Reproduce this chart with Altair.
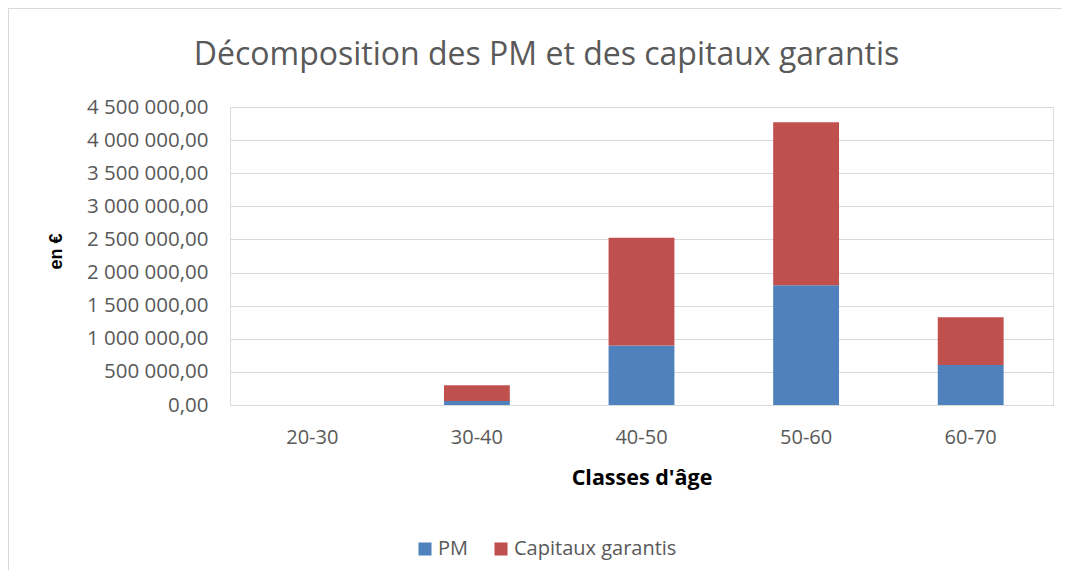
import altair as alt
import pandas as pd

categories = ["20-30", "30-40", "40-50", "50-60", "60-70"]
pm = [0, 60000, 900000, 1810000, 605000]
capitaux = [0, 240000, 1627000, 2460000, 720000]
series = ["PM", "Capitaux garantis"]
colors = ["#4F81BD", "#C0504D"]

rows = []
for c, p, k in zip(categories, pm, capitaux):
    rows.append({"classe": c, "serie": "PM", "valeur": p, "ordre": 0})
    rows.append({"classe": c, "serie": "Capitaux garantis", "valeur": k, "ordre": 1})
df = pd.DataFrame(rows)

FONT = "Open Sans"
GREY = "#595959"

label_expr = "replace(replace(format(datum.value, ',.2f'), regexp(',', 'g'), ' '), '.', ',')"

bars = alt.Chart(df).mark_bar().encode(
    x=alt.X("classe:N", sort=categories,
            scale=alt.Scale(paddingInner=0.6, paddingOuter=0.3),
            axis=alt.Axis(title="Classes d'âge", labelAngle=0, domain=False, ticks=False,
                          labelPadding=32, labelBaseline="middle", labelFontSize=20,
                          labelColor=GREY, labelFont=FONT,
                          titleFont=FONT, titleFontSize=21.5, titleFontWeight="bold",
                          titleColor="#000000", titleY=73, titleBaseline="middle", grid=False)),
    y=alt.Y("valeur:Q", stack="zero",
            scale=alt.Scale(domain=[0, 4500000], nice=False),
            axis=alt.Axis(title="en €", values=list(range(0, 4500001, 500000)),
                          labelExpr=label_expr, domain=False, ticks=False,
                          labelPadding=22, labelFontSize=20.5, labelColor=GREY, labelFont=FONT,
                          gridColor="#D9D9D9", gridWidth=1,
                          titleFont="Liberation Sans", titleFontSize=18, titleFontWeight="bold",
                          titleColor="#000000", titleAngle=270, titleX=-174, titleY=144,
                          titleAlign="center", titleBaseline="middle")),
    color=alt.Color("serie:N", sort=series,
                    scale=alt.Scale(domain=series, range=colors),
                    legend=alt.Legend(title=None, orient="none", legendX=185, legendY=432,
                                      direction="horizontal", columns=2, symbolType="square",
                                      symbolSize=170, symbolStrokeWidth=0, labelFontSize=20,
                                      labelFont=FONT, labelColor=GREY, labelOffset=3,
                                      labelLimit=400, columnPadding=22, padding=0)),
    order=alt.Order("ordre:Q", sort="ascending"),
)

frame = pd.DataFrame({"k": [0]})
top_line = alt.Chart(frame).mark_rule(color="#D9D9D9", strokeWidth=2).encode(
    x=alt.value(-222), x2=alt.value(840), y=alt.value(-99)
)
left_line = alt.Chart(frame).mark_rule(color="#D9D9D9", strokeWidth=2).encode(
    x=alt.value(-222), y=alt.value(-99), y2=alt.value(470)
)

chart = alt.layer(bars, top_line, left_line).properties(
    width=823,
    height=298,
    padding={"left": 222, "top": 99, "right": 9, "bottom": 165},
    autosize=alt.AutoSizeParams(type="none"),
    title=alt.TitleParams("Décomposition des PM et des capitaux garantis", font=FONT,
                          fontSize=32, fontWeight="normal", color=GREY, anchor="middle",
                          baseline="alphabetic", dx=-95, dy=90, offset=0),
).configure_view(stroke=None).configure(background="white")

chart.save("out.html", embed_options={"renderer": "svg", "actions": False})
